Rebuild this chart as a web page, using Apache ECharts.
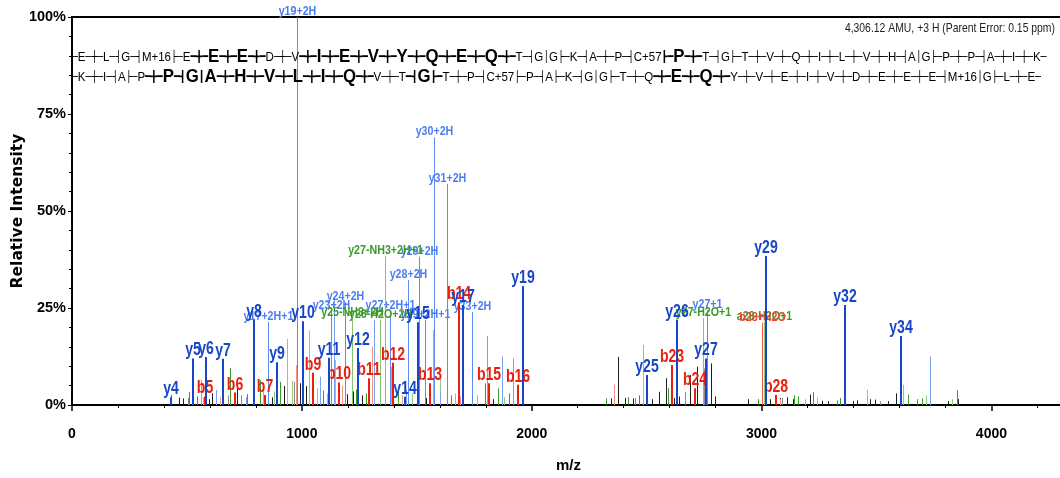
<!DOCTYPE html>
<html>
<head>
<meta charset="utf-8">
<script src="https://cdn.jsdelivr.net/npm/echarts@6/dist/echarts.min.js"></script>
<style>
  html, body { margin: 0; padding: 0; background: #fff; }
  #chart { width: 1060px; height: 478px; }
</style>
</head>
<body>
<div id="chart"></div>
<script>
// peaks: [m/z, relative intensity %, label]
const yIons = [
  [431, 2.0, 'y4'], [527, 12, 'y5'], [583, 12.4, 'y6'], [657, 11.9, 'y7'],
  [792, 22, 'y8'], [892, 11, 'y9'], [1005, 21.6, 'y10'], [1118, 12.2, 'y11'],
  [1245, 14.7, 'y12'], [1449, 2.1, 'y14'], [1506, 21.3, 'y15'], [1701, 25.8, 'y17'],
  [1963, 30.7, 'y19'], [2502, 7.7, 'y25'], [2633, 22, 'y26'], [2759, 12, 'y27'],
  [3020, 38.4, 'y29'], [3364, 25.8, 'y32'], [3607, 17.8, 'y34']
];
const bIons = [
  [579, 2.2, 'b5'], [709, 3.2, 'b6'], [840, 2.6, 'b7'], [1049, 8.3, 'b9'],
  [1162, 5.8, 'b10'], [1292, 6.9, 'b11'], [1397, 10.9, 'b12'], [1558, 5.6, 'b13'],
  [1684, 26.5, 'b14'], [1815, 5.6, 'b15'], [1941, 5.2, 'b16'], [2611, 10.3, 'b23'],
  [2711, 4.3, 'b24'], [3064, 2.6, 'b28']
];
const yMulti = [
  [979, 100, 'y19+2H'], [1575, 69, 'y30+2H'], [1632, 57, 'y31+2H'], [1510, 38.2, 'y29+2H'],
  [1462, 32.2, 'y28+2H'], [1188, 26.5, 'y24+2H'], [1125, 24.2, 'y23+2H'], [1384, 24.2, 'y27+2H+1'],
  [1536, 21.9, 'y29+2H+1'], [1741, 24, 'y33+2H'], [853, 21.4, 'y17+2H+1'], [2763, 24.5, 'y27+1']
];
const lossIons = [
  [1362, 38.4, 'y27-NH3+2H+1'], [1216, 22.4, 'y25-NH3+2H'], [1340, 22, 'y26-H2O+2H'],
  [2745, 22.4, 'y27-H2O+1'], [3010, 21.4, 'a28-H2O+1']
];
const bOther = [[3003, 21.2, 'b28+H2O']];

const lightBlue = [[1140, 27.5], [1314, 22], [561, 6.4], [627, 3.9], [757, 2], [1806, 17.8],
  [1871, 12.5], [1919, 12], [3734, 12.5], [1079, 7.3], [1600, 3.5], [1455, 4]];
const salmon = [[570, 2], [644, 2], [975, 10.3], [1066, 4.3], [1175, 5], [1305, 15], [1388, 9.8],
  [1571, 19.3], [2359, 5.2], [2485, 15.5], [831, 3.5], [3190, 1.5], [3242, 2], [3081, 1.5],
  [1110, 3], [1435, 2.5], [1690, 2.2]];
const lightGreen = [[936, 17], [1031, 19.2], [1144, 11.6], [879, 3.5], [957, 6.2], [1601, 7.3],
  [1667, 3], [3460, 3.9], [3616, 5.2], [3716, 2.5], [3829, 1.5], [1480, 3], [1760, 2.5], [1880, 2]];
const green = [[431, 2.6], [509, 3.4], [688, 9.5], [818, 6.4], [905, 6], [1092, 3.7], [1797, 5.6],
  [1854, 4.3], [2594, 4.4], [2324, 1.7], [2420, 2], [2467, 2.5], [2985, 1.5], [3159, 2.2],
  [3224, 3.3], [3329, 1.2], [3342, 1.8], [3638, 2.7], [3677, 1.5], [3699, 1.7], [3851, 3.8],
  [3142, 2.5], [1236, 4], [1420, 3.5], [1650, 2.5], [1900, 3], [545, 2.2], [760, 2.8], [1280, 3]];
const black = [[466, 1.9], [483, 1.7], [609, 3], [718, 4.3], [923, 4.9], [992, 5.6], [1018, 4.9],
  [1362, 9.8], [2346, 1.7], [2376, 12.4], [2406, 1.8], [2441, 1.7], [2524, 1.5], [2554, 3.4],
  [2585, 6.9], [2620, 1.8], [2641, 2.2], [2689, 7.7], [2720, 9.9], [2781, 10.7], [2798, 2.2],
  [2942, 1.5], [3037, 1.5], [3081, 1.8], [3111, 2], [3137, 1.5], [3211, 2.7], [3264, 1.1],
  [3290, 1], [3399, 1], [3416, 1.2], [3473, 1.5], [3494, 1.4], [3551, 1], [3586, 3], [3812, 1],
  [3855, 1.5], [1197, 2.8], [1223, 3.5], [1262, 2.5], [1420, 2], [1480, 1.5], [1680, 1.5],
  [598, 1.5], [870, 2], [1540, 1.8], [1830, 1.5]];
const gray = [[505, 1.8], [679, 2.5], [735, 2.5], [966, 6], [2750, 9.4], [2450, 1.8], [2667, 3.4],
  [3090, 1.8], [3516, 1]];

// sequence annotation
const seqTop = ['E','L','G','M+16','E','E','E','D','V','I','E','V','Y','Q','E','Q','T','G','G','K',
  'A','P','C+57','P','T','G','T','V','Q','I','L','V','H','A','G','P','P','A','I','K'];
const seqTopHit = [5, 6, 9, 10, 11, 12, 13, 14, 15, 23];
const seqTopSep = ['+','R','R','L','+','+','+','+','+','+','+','+','+','+','+','+','R','|','L','R',
  '+','R','L','+','R','L','+','+','+','+','+','+','R','|','L','+','R','+','+'];
const seqBot = ['K','I','A','P','P','G','A','H','V','L','I','Q','V','T','G','T','P','C+57','P','A',
  'K','G','G','T','Q','E','Q','Y','V','E','I','V','D','E','E','E','M+16','G','L','E'];
const seqBotHit = [4, 5, 6, 7, 8, 9, 10, 11, 14, 25, 26];
const seqBotSep = ['+','R','L','+','R','|','+','+','+','+','+','+','+','R','L','+','R','L','R','L',
  'R','|','L','+','+','+','+','+','+','+','+','+','+','+','+','R','|','L','+'];

const fontA = '"Liberation Sans",Arial,sans-serif';

function seqText (seq, hit, seps, cls) {
  const thin = { '+': '─┼─', 'R': '─┤', 'L': '├─', '|': '│' };
  const bold = { '+': '━╋━', 'R': '━┫', 'L': '┣━', '|': '┃' };
  let t = '{s|─}';
  for (let i = 0; i < seq.length; i++) {
    const on = hit.indexOf(i) >= 0;
    t += '{' + (on ? cls : 'k') + '|' + seq[i] + '}';
    if (i < seps.length) {
      const next = hit.indexOf(i + 1) >= 0;
      if (on || next) t += '{s' + cls + '|' + bold[seps[i]] + '}';
      else t += '{s|' + thin[seps[i]] + '}';
    }
  }
  return t + '{s|─}';
}

const seqRich = {
  k: { fontSize: 13, fontFamily: fontA, color: '#222' },
  r: { fontSize: 19, fontWeight: 'bold', fontFamily: fontA, color: '#e8200c' },
  u: { fontSize: 19, fontWeight: 'bold', fontFamily: fontA, color: '#1846c8' },
  s: { fontSize: 11, fontFamily: 'DejaVu Sans', color: '#222' },
  sr: { fontSize: 11, fontFamily: 'DejaVu Sans', color: '#e8200c' },
  su: { fontSize: 11, fontFamily: 'DejaVu Sans', color: '#1846c8' }
};

function peakSeries (list, color, width, lab, z) {
  return {
    type: 'custom',
    z: z,
    clip: false,
    silent: true,
    data: list.map(function (p) { return [p[0], p[1]] }),
    renderItem: function (params, api) {
      const p0 = api.coord([api.value(0), 0]);
      const p1 = api.coord([api.value(0), api.value(1)]);
      let x = Math.round(p0[0]);
      if (width % 2 === 1) x += 0.5;
      const kids = [{
        type: 'line',
        shape: { x1: x, y1: p0[1], x2: x, y2: p1[1] },
        style: { stroke: color, lineWidth: width }
      }];
      const text = list[params.dataIndex][2];
      if (lab && text) {
        kids.push({
          type: 'text',
          x: x,
          y: p1[1] + 1,
          scaleX: lab.sx,
          style: {
            text: text,
            fill: lab.color,
            fontSize: lab.size,
            fontWeight: 'bold',
            fontFamily: fontA,
            align: 'center',
            verticalAlign: 'bottom'
          }
        });
      }
      return { type: 'group', children: kids };
    }
  };
}

const chart = echarts.init(document.getElementById('chart'));
chart.setOption({
  animation: false,
  grid: {
    left: 72, top: 17, right: -5, bottom: 73,
    outerBoundsMode: 'none',
    containLabel: false,
    show: true, borderColor: '#000', borderWidth: 2
  },
  xAxis: {
    type: 'value',
    min: 0,
    max: 4320,
    interval: 1000,
    name: 'm/z',
    nameLocation: 'middle',
    nameGap: 53,
    nameMoveOverlap: false,
    nameTextStyle: { fontSize: 15, fontWeight: 'bold', fontFamily: fontA, color: '#000' },
    axisLine: { lineStyle: { color: '#000', width: 2 } },
    axisTick: { length: 6, lineStyle: { color: '#000', width: 1.5 } },
    minorTick: { show: true, splitNumber: 5, length: 3, lineStyle: { color: '#000' } },
    splitLine: { show: false },
    axisLabel: {
      showMaxLabel: false, margin: 22, fontSize: 14, fontWeight: 'bold', fontFamily: fontA, color: '#000',
      formatter: function (v) { return String(v) }
    }
  },
  yAxis: {
    type: 'value',
    min: 0,
    max: 100,
    interval: 25,
    name: 'Relative Intensity',
    nameLocation: 'middle',
    nameGap: 46,
    nameMoveOverlap: false,
    nameRotate: 90,
    nameTextStyle: { fontSize: 15.5, fontWeight: 'bold', fontFamily: 'DejaVu Sans', color: '#000' },
    axisLine: { show: true, lineStyle: { color: '#000', width: 2 } },
    axisTick: { show: true, length: 4, lineStyle: { color: '#000' } },
    minorTick: { show: true, splitNumber: 5, length: 3, lineStyle: { color: '#000' } },
    splitLine: { show: false },
    axisLabel: { margin: 6, formatter: '{value}%', fontSize: 14.5, fontWeight: 'bold', fontFamily: fontA, color: '#000' }
  },
  graphic: [
    {
      type: 'text', x: 1055, y: 28, z: 10, scaleX: 0.8,
      style: {
        text: '4,306.12 AMU, +3 H (Parent Error: 0.15 ppm)', align: 'right', verticalAlign: 'middle',
        fontSize: 13, fontFamily: fontA, fill: '#222'
      }
    },
    { type: 'text', x: 72, y: 57, z: 10, scaleX: 0.885, style: { text: seqText(seqTop, seqTopHit, seqTopSep, 'r'), rich: seqRich, verticalAlign: 'middle' } },
    { type: 'text', x: 72, y: 77, z: 10, scaleX: 0.885, style: { text: seqText(seqBot, seqBotHit, seqBotSep, 'u'), rich: seqRich, verticalAlign: 'middle' } }
  ],
  series: [
    peakSeries(gray, '#8a8a8a', 1, null, 1),
    peakSeries(black, '#1e1e1e', 1, null, 2),
    peakSeries(salmon, '#f49583', 1, null, 3),
    peakSeries(lightGreen, '#8fca7e', 1, null, 3),
    peakSeries(green, '#3a9a2a', 1, null, 4),
    peakSeries(lightBlue, '#7aa2f2', 1, null, 4),
    peakSeries(yMulti, '#5b8cf0', 1, { color: '#4a7ef0', size: 13, sx: 0.82 }, 5),
    peakSeries(lossIons, '#86c474', 1, { color: '#3a9a2a', size: 13, sx: 0.82 }, 5),
    peakSeries(bOther, '#f0563c', 1, { color: '#e8482c', size: 13, sx: 0.82 }, 5),
    peakSeries(bIons, '#e8200c', 2, { color: '#e8200c', size: 18, sx: 0.78 }, 6),
    peakSeries(yIons, '#1846c8', 2, { color: '#1846c8', size: 18, sx: 0.78 }, 7)
  ]
});
</script>
</body>
</html>
